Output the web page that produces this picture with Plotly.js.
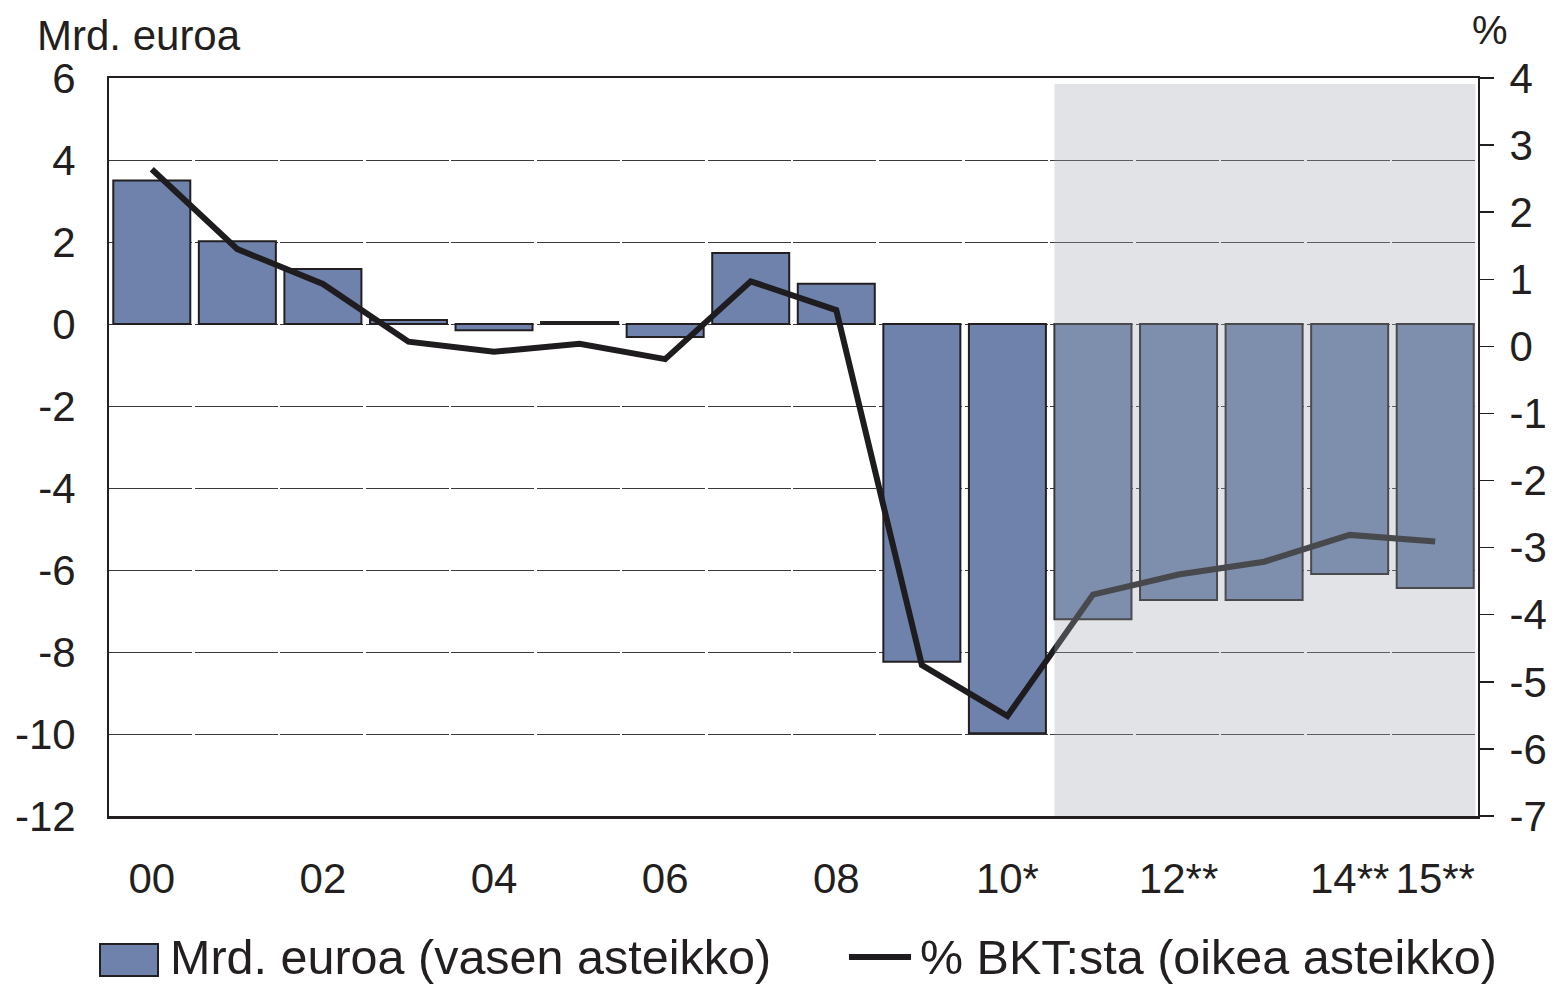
<!DOCTYPE html>
<html>
<head>
<meta charset="utf-8">
<script src="https://cdn.plot.ly/plotly-3.0.1.min.js"></script>
<style>html,body{margin:0;padding:0;background:#fff;}#chart{width:1557px;height:984px;}</style>
</head>
<body>
<div id="chart"></div>
<script>
const years = [2000,2001,2002,2003,2004,2005,2006,2007,2008,2009,2010,2011,2012,2013,2014,2015];
const billionEur = [3.5,2.02,1.34,0.1,-0.15,0.05,-0.32,1.73,0.98,-8.24,-9.98,-7.2,-6.73,-6.73,-6.1,-6.44];
const pctGdp = [2.64,1.45,0.93,0.07,-0.08,0.04,-0.19,0.97,0.54,-4.75,-5.51,-3.7,-3.4,-3.21,-2.81,-2.91];
const tickYears = [2000,2002,2004,2006,2008,2010,2012,2014,2015];
const tickLabels = ["00","02","04","06","08","10*","12**","14**","15**"];
const leftTicks = [6,4,2,0,-2,-4,-6,-8,-10,-12];
const leftLabels = ["6","4","2","0","-2","-4","-6","-8","-10","-12"];
const rightTicks = [4,3,2,1,0,-1,-2,-3,-4,-5,-6,-7];
const rightLabels = ["4","3","2","1","0","-1","-2","-3","-4","-5","-6","-7"];
const barName = "Mrd. euroa (vasen asteikko)";
const lineName = "% BKT:sta (oikea asteikko)";

const FONT = "Liberation Sans, Arial, Helvetica, sans-serif";
const TXT = "#231f20";
const W = 1557, H = 984, L = 109, R = 79, T = 78, B = 168;
const plotW = W - L - R, plotH = H - T - B;
const px = v => (v - L) / plotW;
const py = v => 1 - (v - T) / plotH;
const cat = plotW / 16;

const traces = [
  {type:'bar', x:years, y:billionEur, name:barName, width:0.9,
   marker:{color:'#6e82ab', line:{color:'#231f20', width:2}}, yaxis:'y', showlegend:false},
  {type:'scatter', mode:'lines', x:years, y:pctGdp, name:lineName,
   line:{color:'#1e1c1e', width:6}, yaxis:'y2', showlegend:false}
];

const layout = {
  width:W, height:H,
  margin:{l:L, r:R, t:T, b:B, pad:0},
  paper_bgcolor:'#fff', plot_bgcolor:'#fff',
  font:{family:FONT, size:42, color:TXT},
  bargap:0,
  xaxis:{range:[1999.5,2015.5], tickmode:'array', tickvals:tickYears, ticktext:tickLabels,
    showgrid:false, zeroline:false, showline:true, mirror:true, linecolor:'#231f20', linewidth:2.5,
    ticks:'', ticklabelstandoff:24, tickfont:{size:42, color:TXT}, fixedrange:true},
  yaxis:{range:[-12,6], tickmode:'array', tickvals:leftTicks, ticktext:leftLabels,
    showgrid:true, gridcolor:'#3a3a3a', gridwidth:1,
    griddash:(cat-2.6).toFixed(2)+'px,2.6px',
    zeroline:false, showline:true, linecolor:'#231f20', linewidth:2, ticks:'',
    ticklabelstandoff:23, tickfont:{size:42, color:TXT}, fixedrange:true},
  yaxis2:{range:[-7,4], tickmode:'array', tickvals:rightTicks, ticktext:rightLabels,
    overlaying:'y', side:'right', showgrid:false,
    zeroline:false, showline:true, linecolor:'#231f20', linewidth:2, ticks:'outside',
    ticklen:14, tickwidth:1.5, tickcolor:'#231f20', ticklabelstandoff:7,
    tickfont:{size:42, color:TXT}, fixedrange:true},
  shapes:[
    {type:'rect', xref:'x', yref:'paper', x0:2010.55, x1:2015.47, y0:0, y1:py(84),
     fillcolor:'rgb(162,168,178)', opacity:0.32, line:{width:0}, layer:'above'},
    {type:'rect', xref:'paper', yref:'paper', x0:px(100), x1:px(158), y0:py(944), y1:py(976),
     fillcolor:'#6e82ab', line:{color:'#231f20', width:2}},
    {type:'line', xref:'paper', yref:'paper', x0:px(849), x1:px(911), y0:py(957), y1:py(957),
     line:{color:'#1e1c1e', width:6}}
  ],
  annotations:[
    {xref:'paper', yref:'paper', x:px(35), y:py(35), xanchor:'left', yanchor:'middle',
     text:'Mrd. euroa', showarrow:false, font:{size:42, color:TXT}},
    {xref:'paper', yref:'paper', x:px(1490), y:py(30), xanchor:'center', yanchor:'middle',
     text:'%', showarrow:false, font:{size:40, color:TXT}},
    {xref:'paper', yref:'paper', x:px(168), y:py(957), xanchor:'left', yanchor:'middle',
     text:barName, showarrow:false, font:{size:48.5, color:TXT}},
    {xref:'paper', yref:'paper', x:px(918), y:py(957), xanchor:'left', yanchor:'middle',
     text:lineName, showarrow:false, font:{size:48.5, color:TXT}}
  ]
};

Plotly.newPlot('chart', traces, layout, {staticPlot:true, displayModeBar:false});
</script>
</body>
</html>
